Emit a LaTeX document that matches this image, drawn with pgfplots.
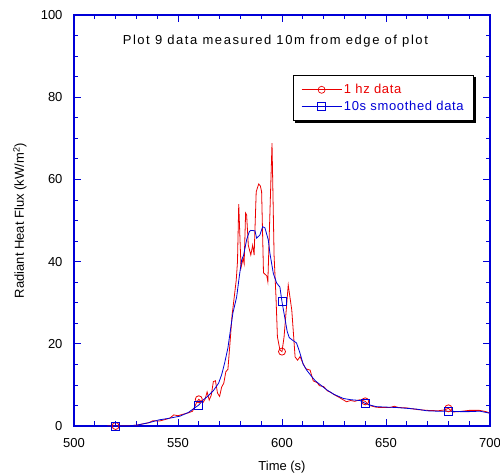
\documentclass[border=0pt]{standalone}
\usepackage{fontspec}
\setmainfont{Liberation Sans}
\newfontfamily\titlefont[LetterSpace=12]{Liberation Sans}
\newfontfamily\legfont[LetterSpace=5]{Liberation Sans}
\usepackage{pgfplots}
\pgfplotsset{compat=1.18}
\usetikzlibrary{calc}
\definecolor{lred}{RGB}{235,0,0}
\definecolor{lblue}{RGB}{0,0,215}
\newcommand{\lfont}{\fontsize{13bp}{15bp}\selectfont}

\begin{document}
\begin{tikzpicture}
\begin{axis}[
    width=416bp, height=411bp, scale only axis,
    xmin=500, xmax=700, ymin=0, ymax=100,
    xtick={500,550,...,700}, minor xtick={510,520,...,690},
    ytick={0,20,...,100}, minor ytick={5,10,...,95},
    tick align=inside,
    major tick length=7bp, minor tick length=4.5bp,
    axis line style={lblue, line width=1.1pt},
    tick style={lblue, line width=0.8pt},
    tick label style={font=\lfont, black},
    /pgf/number format/assume math mode=true,
    xticklabel style={yshift=-9bp},
    yticklabel style={xshift=-8bp},
    xlabel={Time (s)},
    ylabel={Radiant Heat Flux (kW/m\textsuperscript{2})},
    label style={font=\lfont},
    xlabel style={at={(axis description cs:0.5,-0.1)}, anchor=center},
    ylabel style={at={(axis description cs:-0.13,0.5)}, anchor=center},
    legend image code/.code={\draw[mark repeat=2,mark phase=2,#1] plot coordinates {(0bp,0bp) (20bp,0bp) (40bp,0bp)};},
    legend style={name=leg, at={(0.9615,0.854)}, anchor=north east, draw=black, line width=0.7pt,
        fill=white, font=\fontsize{13bp}{15bp}\legfont, inner xsep=8bp, inner ysep=7bp, row sep=1.5bp,
        cells={anchor=west}},
]
% 1 Hz data
\addplot[lred, line width=0.8pt, forget plot] coordinates {
(516,0) (520,0) (525,0) (530,0.2) (533,0.5) (536,0.8) (538,1.3) (541,1.2)
(544,1.6) (546,1.9) (548,2.7) (550,2.5) (552,2.8) (555,3.2) (557,3.6) (558,4.6)
(559,5.8) (560,6.5) (561,6.0) (562,5.7) (563,6.5) (564,8.3) (565,6.3) (566,7.5)
(567,10.8) (568,11.0) (569,8.0) (570,7.2) (571,9.5) (572,10.4) (573,13.2) (574,13.8)
(575,20.2) (576,27) (576.6,29.5) (578,35.5) (578.6,40) (579.2,54) (580.3,38.5)
(581.3,40.8) (581.8,39.5) (582.5,51.8) (583,51.3) (583.8,44) (585,41.6) (585.9,44)
(586.6,41.6) (587.6,57) (588.8,58.9) (589.6,58.4) (590.2,57) (591.1,37.3) (592.7,36.5)
(593.2,35.1) (595.2,68.8) (596.2,41.4) (597.1,31.5) (597.8,21.7) (599,18.5) (600,18.1)
(601,21.7) (603,34.3) (604.7,28.2) (606.3,16.8) (607.5,16) (608.7,16.9) (610,15.3)
(611.5,13.9) (613.5,13.6) (615,11) (617,10.5) (618,9.8) (620,9.6) (622,8.5) (623,8.3)
(625.5,7.5) (627,7.1) (629,6.5) (631,5.9) (633,6.2) (635,6.0) (637.5,6.4) (640,6.0)
(642,5.0) (645,4.6) (647,4.5) (650,4.5) (652,4.5) (654,4.8) (656,4.5) (660,4.4)
(665,4.0) (670,3.8) (675,3.7) (678,3.9) (680,4.3) (682,3.4) (685,3.5) (690,3.8)
(695,3.8) (698,3.5) (700,3.1)
};
% 10 s smoothed data
\addplot[lblue, line width=0.8pt, forget plot] coordinates {
(518,0) (520,0) (525,0) (530,0.2) (536,0.8) (541,1.5) (546,1.9) (551,2.4)
(555,3.3) (558,4.4) (560,5.1) (562,6.3) (564,7.1) (567,8.6) (569.5,10.4) (571,12.5)
(572.5,15.5) (574,19) (575,22.6) (576.4,27.5) (578.2,31.4) (579.5,36.5) (580.6,40.4)
(581.5,41.5) (583,45.3) (584.3,47.3) (585,47.6) (587,47.5) (587.8,45.7) (589.4,46.5)
(590.7,48.5) (591.8,48.2) (593.4,45.3) (594.2,42) (595.8,37.2) (597.4,34.8) (599,33.8)
(600,30.2) (601.4,26.2) (602.5,23) (603.5,21.5) (605,20.9) (607,20.2) (608.6,17.8)
(610.2,15) (612,13.5) (614,12.2) (616,11) (619,9.8) (621.5,8.8) (625,7.7) (629.5,6.7)
(633,6.4) (637.5,6.2) (640,5.5) (643,5.0) (645.5,4.7) (650,4.6) (655,4.5) (660,4.3)
(664.8,4.1) (669.6,3.7) (675,3.6) (680,3.6) (685.6,3.5) (690,3.5) (695.2,3.6) (700,3.1)
};
% markers every 40 s
\addplot[lred, only marks, mark=o, mark size=3.5bp, line width=0.8pt, forget plot] coordinates {
(520,0) (560,6.5) (600,18.1) (640,6.0) (680,4.3)
};
\addplot[lblue, only marks, mark=square, mark size=4bp, line width=0.8pt, forget plot] coordinates {
(520,0) (560,5.1) (600,30.2) (640,5.5) (680,3.6)
};
\addlegendimage{lred, line width=0.7pt, mark=o, mark size=3.5bp}
\addlegendentry{\textcolor{lred}{1 hz data}}
\addlegendimage{lblue, line width=0.7pt, mark=square, mark size=4bp}
\addlegendentry{\textcolor{lblue}{10s smoothed data}}
\node[font=\fontsize{13bp}{15bp}\titlefont] at (axis cs:596.8,93.7) {Plot 9 data measured 10m from edge of plot};
\coordinate (sw) at (rel axis cs:0,0);
\coordinate (ne) at (rel axis cs:1,1);
\end{axis}
\draw[black, line width=1.4bp] ([xshift=1.1bp,yshift=-2bp]leg.north east) |- ([xshift=2bp,yshift=-1.1bp]leg.south west);
\pgfresetboundingbox
\path ($(sw)+(-74bp,-48bp)$) rectangle ($(ne)+(10bp,15bp)$);
\end{tikzpicture}
\end{document}
